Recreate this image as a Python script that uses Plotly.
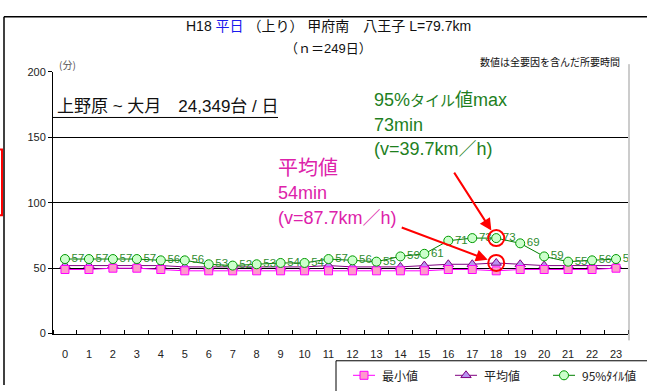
import plotly.graph_objects as go

# ---- data -------------------------------------------------------------
hours = list(range(24))
hour_labels = [str(h) for h in hours]
min_minutes = [49, 49, 50, 50, 49, 48, 48, 48, 48, 48, 48, 48,
               48, 48, 48, 48, 49, 49, 48, 49, 49, 49, 49, 50]
avg_minutes = [52, 52, 52, 52, 52, 51, 51, 51, 51, 51, 51, 52,
               51, 51, 51, 52, 53, 53, 54, 53, 52, 52, 52, 52]
p95_minutes = [57, 57, 57, 57, 56, 56, 53, 52, 53, 54, 54, 57,
               56, 55, 59, 61, 71, 73, 73, 69, 59, 55, 56, 57]
y_ticks = [0, 50, 100, 150, 200]
series_names = ["最小値", "平均値", "95%ﾀｲﾙ値"]
peak_hour = 18
p95_speed_text = "(v=39.7km／h)"
avg_speed_text = "(v=87.7km／h)"

# ---- canvas helpers (pixel -> paper) ----------------------------------
W, H = 647, 391
PL, PR, PT, PB = 53, 628, 68, 338


def px(x):
    return x / W


def py(y):
    return 1 - y / H


FONT = "Liberation Sans, Arial, Noto Sans CJK JP, sans-serif"
JP = "Noto Sans CJK JP, sans-serif"

MIN_STYLE = dict(line=dict(color="#FF00FF", width=1),
                 marker=dict(symbol="square", size=8, color="#FF99CC",
                             line=dict(color="#FF00FF", width=1)))
AVG_STYLE = dict(line=dict(color="#800080", width=1),
                 marker=dict(symbol="triangle-up", size=9, color="#B794F0",
                             line=dict(color="#800080", width=1)))
P95_STYLE = dict(line=dict(color="#008000", width=1),
                 marker=dict(symbol="circle", size=9, color="#CCFFCC",
                             line=dict(color="#009900", width=1)))

fig = go.Figure()

fig.add_trace(go.Scatter(x=hours, y=avg_minutes, mode="lines+markers",
                         name=series_names[1], **AVG_STYLE))
fig.add_trace(go.Scatter(x=hours, y=min_minutes, mode="lines+markers",
                         name=series_names[0], **MIN_STYLE))
fig.add_trace(go.Scatter(x=hours, y=p95_minutes, mode="lines+markers+text",
                         name=series_names[2],
                         text=[str(v) for v in p95_minutes],
                         textposition="middle right",
                         textfont=dict(size=11.5, color="#2E8B2E", family=FONT),
                         **P95_STYLE))

# ---- hand-built legend on a pixel-space overlay axis -----------------
legend_slots = [(353, MIN_STYLE), (455, AVG_STYLE), (553, P95_STYLE)]
LEG_Y = 381
for (x0, style), name in zip(legend_slots, series_names):
    fig.add_trace(go.Scatter(x=[x0, x0 + 22], y=[LEG_Y, LEG_Y], mode="lines",
                             line=style["line"], xaxis="x2", yaxis="y2",
                             hoverinfo="skip"))
    fig.add_trace(go.Scatter(x=[x0 + 11], y=[LEG_Y], mode="markers",
                             marker=style["marker"], xaxis="x2", yaxis="y2",
                             hoverinfo="skip"))


def note(x, y, text, size, color, family=FONT, xanchor="left"):
    return dict(x=px(x), y=py(y), xref="paper", yref="paper", text=text,
                showarrow=False, xanchor=xanchor, yanchor="middle",
                font=dict(size=size, color=color, family=family))


annotations = []
for (x0, _), name in zip(legend_slots, series_names):
    annotations.append(note(x0 + 27, LEG_Y, name, 12, "#222", JP))

# ---- titles and notes -------------------------------------------------
annotations += [
    note(328, 21, "H18 <span style='color:#1a1aee'>平日</span> （上り） 甲府南　八王子 L=79.7km",
         14, "#111", xanchor="center"),
    note(328, 44, "（ｎ＝249日）", 13, "#111", xanchor="center"),
    note(67, 60, "(分)", 10, "#555", JP, xanchor="center"),
    note(622, 57, "数値は全要因を含んだ所要時間", 10, "#111", JP, xanchor="right"),
    note(55, 104, "上野原 ~ 大月　24,349台 / 日", 17, "#111"),
]

green = "#1E7F1E"
magenta = "#DD22AA"
p95_peak = p95_minutes[peak_hour]
avg_peak = avg_minutes[peak_hour]
p95_head = "95%<span style='font-size:15px'>タイル</span>値max"
for text, y in [(p95_head, 97), (f"{p95_peak}min", 123), (p95_speed_text, 148)]:
    annotations.append(note(372, y, text, 18, green))
for text, y, size in [("平均値", 167, 20), (f"{avg_peak}min", 193, 18), (avg_speed_text, 219, 18)]:
    annotations.append(note(276, y, text, size, magenta))

# red callout arrows to the peak points
annotations += [
    dict(x=peak_hour, y=p95_peak, xref="x", yref="y", text="", showarrow=True,
         ax=-43, ay=-67, arrowhead=2, arrowsize=1.2, arrowwidth=2,
         arrowcolor="#FF0000", standoff=9),
    dict(x=peak_hour, y=avg_peak, xref="x", yref="y", text="", showarrow=True,
         ax=-96, ay=-36, arrowhead=2, arrowsize=1.2, arrowwidth=2,
         arrowcolor="#FF0000", standoff=9),
]

shapes = [
    # outer frame
    dict(type="line", xref="paper", yref="paper", x0=px(4), y0=py(11), x1=px(W), y1=py(11),
         line=dict(color="black", width=1.5)),
    dict(type="line", xref="paper", yref="paper", x0=px(4), y0=py(11), x1=px(4), y1=py(H),
         line=dict(color="black", width=1.5)),
    # red frame at the far left edge
    dict(type="rect", xref="paper", yref="paper", x0=px(-10), y0=py(148), x1=px(2), y1=py(216),
         line=dict(color="#FF0000", width=2)),
    # right border of chart area
    dict(type="line", xref="paper", yref="paper", x0=px(629), y0=py(60), x1=px(629), y1=py(345),
         line=dict(color="#999", width=1)),
    # underline of the section label
    dict(type="line", xref="paper", yref="paper", x0=px(53), y0=py(115), x1=px(278), y1=py(115),
         line=dict(color="black", width=1)),
    # legend frame
    dict(type="rect", xref="paper", yref="paper", x0=px(336), y0=py(366), x1=px(W + 20), y1=py(H + 20),
         line=dict(color="black", width=1)),
]
for val in (p95_peak, avg_peak):
    shapes.append(dict(type="circle", xref="x", yref="y", xsizemode="pixel", ysizemode="pixel",
                       xanchor=peak_hour, yanchor=val, x0=-8, x1=8, y0=-8, y1=8,
                       line=dict(color="#FF0000", width=2)))

fig.update_layout(
    width=W, height=H, margin=dict(l=0, r=0, t=0, b=0),
    paper_bgcolor="white", plot_bgcolor="rgba(0,0,0,0)",
    showlegend=False, font=dict(family=FONT, size=11, color="#222"),
    xaxis=dict(domain=[px(PL), px(PR)], range=[-0.5, 23.5],
               tickmode="array", tickvals=hours, ticktext=hour_labels,
               ticks="", showgrid=False, zeroline=False,
               showline=True, linecolor="black", linewidth=1,
               ticklabelstandoff=10, tickfont=dict(size=11, color="#222"),
               minor=dict(tickmode="array", tickvals=[h - 0.5 for h in hours] + [23.5],
                          ticks="inside", ticklen=4, tickcolor="black", showgrid=False),
               fixedrange=True),
    yaxis=dict(domain=[py(PB), py(PT)], range=[0, 200], tickmode="array", tickvals=y_ticks,
               ticks="outside", ticklen=4, tickcolor="black",
               showgrid=True, gridcolor="black", gridwidth=1, zeroline=False,
               showline=True, linecolor="black", linewidth=1,
               tickfont=dict(size=11, color="#222"), fixedrange=True),
    xaxis2=dict(domain=[0, 1], range=[0, W], anchor="y2", visible=False, fixedrange=True),
    yaxis2=dict(domain=[0, 1], range=[H, 0], anchor="x2", visible=False, fixedrange=True),
    annotations=annotations, shapes=shapes,
)

fig.write_html("out.html")
